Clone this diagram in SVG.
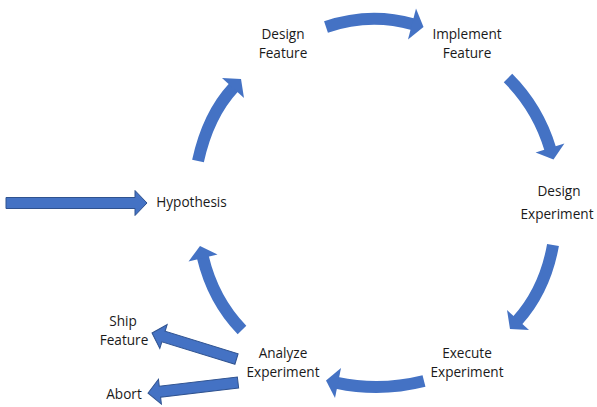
<svg xmlns="http://www.w3.org/2000/svg" width="597" height="407" viewBox="0 0 597 407">
<style>
.lbl{font-family:"Open Sans","Noto Sans",sans-serif;font-size:13.6px;fill:#1a1a1a;text-anchor:middle}
.shaft{fill:none;stroke:#4472C4;stroke-width:12}
.head{fill:#4472C4}
.sarrow{fill:#4472C4;stroke:#2F528F;stroke-width:1}
</style>
<rect width="597" height="407" fill="#ffffff"/>
<g id="connectors">
<g id="c-df-if"><path class="shaft" d="M326,27 Q370,12 413,24.3"/><polygon class="head" points="416,8.6 423.5,27 408,39.4"/></g>
<g id="c-if-de"><path class="shaft" d="M508,78 Q538,108 550.3,149"/><polygon class="head" points="564.4,143.6 553.5,159.5 535.6,152.4"/></g>
<g id="c-de-ee"><path class="shaft" d="M553,245 Q545,290 517.3,320.8"/><polygon class="head" points="529,330 510,329 507,310"/></g>
<g id="c-ee-ae"><path class="shaft" d="M424,381 Q380,392 337,382.8"/><polygon class="head" points="341,368 326,380.5 335,398"/></g>
<g id="c-ae-h"><path class="shaft" d="M242,330 Q213,300 202.8,257"/><polygon class="head" points="217.5,254.5 200,246 188.5,261.5"/></g>
<g id="c-h-df"><path class="shaft" d="M198,161 Q208,115 233.7,87.3"/><polygon class="head" points="222,78 241,79 244,98"/></g>
<path id="c-in" class="sarrow" transform="translate(6,203)" d="M0,-5.5 H129 V-12.5 L141,0 L129,12.5 V5.5 H0 Z"/>
<path id="c-ship" class="sarrow" transform="translate(236.5,359) rotate(197.1)" d="M0,-5.5 H76.4 V-12.5 L88.4,0 L76.4,12.5 V5.5 H0 Z"/>
<path id="c-abort" class="sarrow" transform="translate(238,382.5) rotate(173.3)" d="M0,-5.5 H78.6 V-12.5 L90.6,0 L78.6,12.5 V5.5 H0 Z"/>
</g>
<g id="design-feature"><text class="lbl" x="283" y="39">Design</text><text class="lbl" x="283" y="58">Feature</text></g>
<g id="implement-feature"><text class="lbl" x="467" y="39">Implement</text><text class="lbl" x="467" y="58">Feature</text></g>
<g id="design-experiment"><text class="lbl" x="559" y="196">Design</text><text class="lbl" x="557" y="219">Experiment</text></g>
<g id="execute-experiment"><text class="lbl" x="467" y="358">Execute</text><text class="lbl" x="467" y="377">Experiment</text></g>
<g id="analyze-experiment"><text class="lbl" x="283" y="358">Analyze</text><text class="lbl" x="283" y="377">Experiment</text></g>
<g id="hypothesis"><text class="lbl" x="191.5" y="207">Hypothesis</text></g>
<g id="ship-feature"><text class="lbl" x="123" y="326">Ship</text><text class="lbl" x="124" y="345">Feature</text></g>
<g id="abort"><text class="lbl" x="124" y="399">Abort</text></g>
</svg>
